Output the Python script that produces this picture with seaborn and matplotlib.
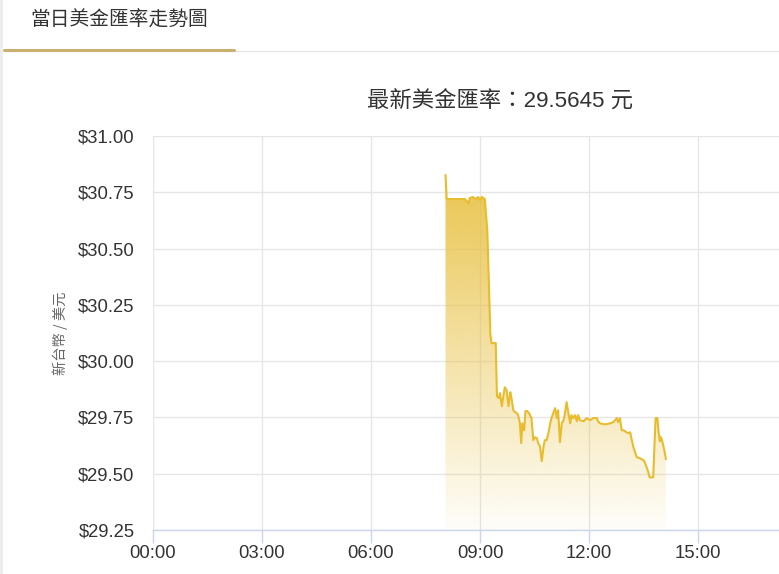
import matplotlib
matplotlib.use("Agg")
import matplotlib.pyplot as plt
import numpy as np
import pandas as pd
import seaborn as sns
from matplotlib.lines import Line2D
from matplotlib.colors import to_rgb

# ---- data ----
times = ["08:03", "08:05", "08:35", "08:41", "08:43", "08:48", "08:53", "08:57", "09:00", "09:03",
         "09:08", "09:12", "09:15", "09:17", "09:19", "09:26", "09:28", "09:31", "09:33", "09:36",
         "09:38", "09:41", "09:44", "09:47", "09:50", "09:52", "09:55", "09:58", "10:01", "10:03",
         "10:06", "10:08", "10:10", "10:13", "10:15", "10:18", "10:21", "10:25", "10:28", "10:31",
         "10:34", "10:36", "10:39", "10:42", "10:45", "10:47", "10:50", "10:53", "10:56", "10:58",
         "11:01", "11:04", "11:07", "11:09", "11:12", "11:15", "11:18", "11:20", "11:23", "11:26",
         "11:29", "11:31", "11:34", "11:37", "11:40", "11:42", "11:45", "11:51", "11:56", "12:02",
         "12:07", "12:13", "12:15", "12:18", "12:24", "12:29", "12:35", "12:40", "12:46", "12:48",
         "12:51", "12:54", "12:57", "13:02", "13:05", "13:08", "13:10", "13:13", "13:16", "13:19",
         "13:24", "13:30", "13:32", "13:35", "13:38", "13:40", "13:46", "13:48", "13:50", "13:53",
         "13:55", "13:57", "13:59", "14:01", "14:03", "14:05", "14:07"]
rates = [30.827, 30.720, 30.720, 30.702, 30.724, 30.729, 30.720, 30.729, 30.716, 30.729,
         30.720, 30.582, 30.316, 30.124, 30.080, 30.080, 29.844, 29.836, 29.858, 29.800,
         29.836, 29.884, 29.871, 29.800, 29.862, 29.836, 29.782, 29.773, 29.769, 29.760,
         29.724, 29.636, 29.724, 29.693, 29.778, 29.778, 29.769, 29.747, 29.649, 29.662,
         29.658, 29.636, 29.622, 29.556, 29.622, 29.649, 29.649, 29.680, 29.724, 29.747,
         29.769, 29.791, 29.747, 29.782, 29.640, 29.724, 29.738, 29.764, 29.818, 29.769,
         29.724, 29.760, 29.747, 29.760, 29.733, 29.760, 29.738, 29.733, 29.747, 29.738,
         29.747, 29.747, 29.733, 29.724, 29.720, 29.720, 29.724, 29.729, 29.747, 29.729,
         29.747, 29.693, 29.693, 29.684, 29.680, 29.684, 29.658, 29.622, 29.596, 29.573,
         29.569, 29.560, 29.551, 29.529, 29.507, 29.484, 29.484, 29.618, 29.747, 29.747,
         29.684, 29.644, 29.662, 29.644, 29.622, 29.596, 29.5645]
x_tick_labels = ["00:00", "03:00", "06:00", "09:00", "12:00", "15:00"]
y_ticks = [29.25, 29.50, 29.75, 30.00, 30.25, 30.50, 30.75, 31.00]
latest = "29.5645"

df = pd.DataFrame({"time": times, "rate": rates})
tt = pd.to_datetime(df["time"], format="%H:%M")
df["hour"] = tt.dt.hour + tt.dt.minute / 60.0

# ---- style ----
sns.set_theme(style="white")
plt.rcParams["font.family"] = ["Liberation Sans", "Noto Sans CJK TC", "DejaVu Sans"]

W, H = 779, 574
fig = plt.figure(figsize=(W / 100, H / 100), dpi=100)
fig.patch.set_facecolor("white")

# page chrome
fig.add_artist(Line2D([1.0 / W, 1.0 / W], [0, 1], color="#ececec", lw=2))
fig.add_artist(Line2D([234 / W, 1], [1 - 51 / H, 1 - 51 / H], color="#e6e6e6", lw=1))
fig.add_artist(Line2D([4 / W, 234 / W], [1 - 49.5 / H, 1 - 49.5 / H], color="#c9b06d", lw=2.2))
fig.text(30 / W, 1 - 20 / H, "當日美金匯率走勢圖", fontsize=14.2, color="#333333",
         ha="left", va="center", family=["Noto Sans CJK TC", "DejaVu Sans"])
fig.text(500 / W, 1 - 102 / H, "最新美金匯率：" + latest + " 元", fontsize=16.1,
         color="#333333", ha="center", va="center",
         family=["Liberation Sans", "Noto Sans CJK TC", "DejaVu Sans"])

ax = fig.add_axes([153 / W, 1 - 530 / H, 1 - 153 / W, (530 - 136) / H])
ax.set_facecolor("white")

ymin, ymax = 29.25, 31.00
ax.set_xlim(0, (W - 153) / (109 / 3))
ax.set_ylim(ymin, ymax)

line_col = "#e8bc2c"
sns.lineplot(data=df, x="hour", y="rate", ax=ax, color=line_col, lw=1.5, zorder=4)

# gradient fill under the line
poly = ax.fill_between(df["hour"], df["rate"], ymin, color="none", lw=0)
top = df["rate"].max()
n = 256
alpha = np.linspace(0.92, 0.03, n)[:, None]
rgb = np.array(to_rgb("#e8c040"))
grad = np.zeros((n, 1, 4))
grad[..., :3] = rgb
grad[..., 3] = alpha
img = ax.imshow(grad, extent=[df["hour"].min(), df["hour"].max(), ymin, top],
                aspect="auto", origin="upper", zorder=3, interpolation="bilinear")
path = poly.get_paths()[0]
img.set_clip_path(path, transform=ax.transData)

# grid & axes
ax.set_xticks(range(0, 18, 3))
ax.set_xticklabels(x_tick_labels)
ax.set_yticks(y_ticks)
ax.set_yticklabels(["$%.2f" % v for v in y_ticks])
ax.grid(True, color="#e6e6e6", lw=1, zorder=0)
ax.set_axisbelow(True)
for s in ["top", "right", "left"]:
    ax.spines[s].set_visible(False)
ax.spines["bottom"].set_color("#ccd6eb")
ax.spines["bottom"].set_linewidth(1)
ax.tick_params(axis="x", which="both", bottom=True, length=9, width=1, color="#ccd6eb",
               labelsize=13.3, labelcolor="#333333", pad=1.5)
ax.tick_params(axis="y", left=False, labelsize=13.3, labelcolor="#333333", pad=7.3)
ax.set_xlabel("")
ax.set_ylabel("新台幣 / 美元", fontsize=10.3, color="#666666", labelpad=7,
              family=["Noto Sans CJK TC", "DejaVu Sans"])

fig.savefig("out.png", dpi=100, facecolor="white")
